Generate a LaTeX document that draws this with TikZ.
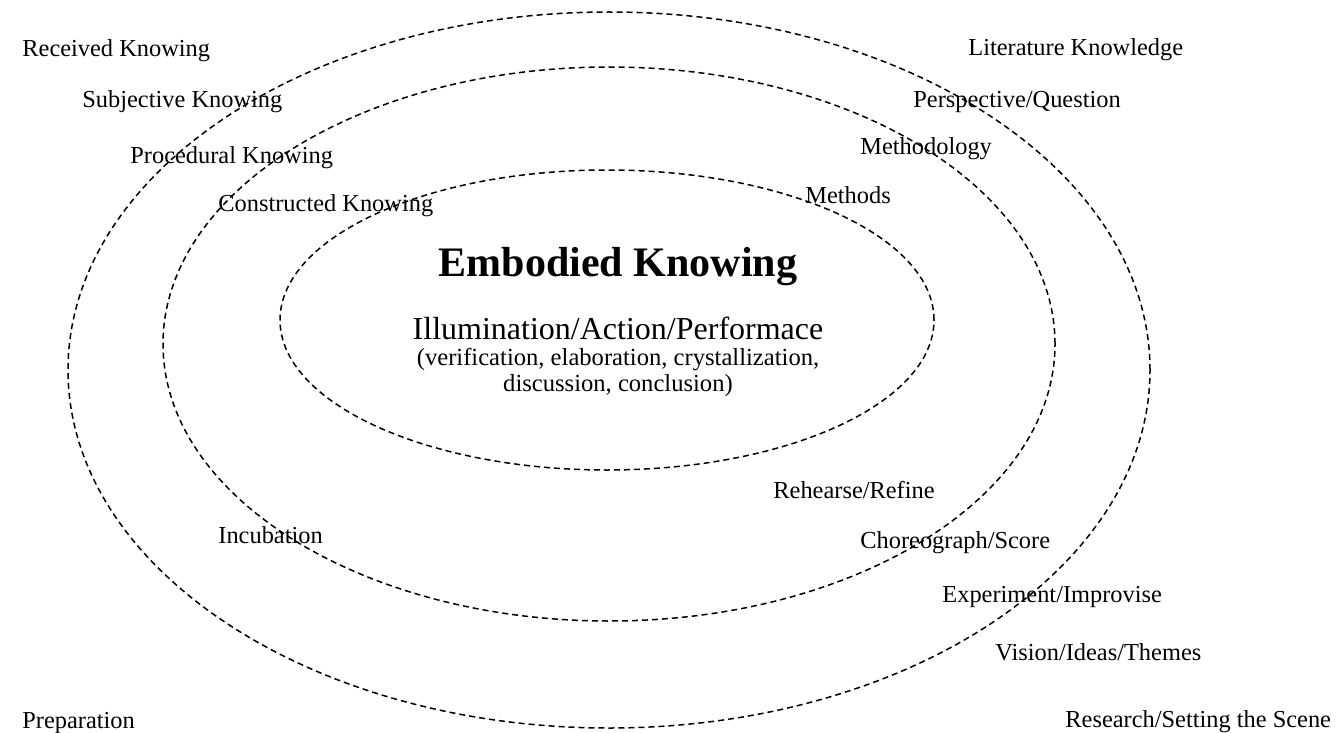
\documentclass[tikz,border=0pt]{standalone}
\usepackage{fontspec}
\setmainfont{Liberation Serif}
\begin{document}
\begin{tikzpicture}[x=0.5pt, y=-0.5pt,
	ring/.style = {draw, line width=0.75pt, dash pattern=on 3pt off 2pt},
	stage/.style = {anchor=base west, inner sep=0pt, font=\fontsize{12.2}{14}\selectfont},
	core/.style = {anchor=base, inner sep=0pt, align=center}]
	\useasboundingbox (0,0) rectangle (1343,733);

	% the three rings
	\coordinate (outerc) at (609,370);
	\coordinate (middlec) at (609,344);
	\coordinate (innerc) at (607,320);
	\draw[ring] (outerc) ellipse [x radius=270.5pt, y radius=179pt];
	\draw[ring] (middlec) ellipse [x radius=223pt, y radius=138.5pt];
	\draw[ring] (innerc) ellipse [x radius=163.5pt, y radius=75pt];

	% centre
	\node[core, font=\bfseries\fontsize{21}{24}\selectfont] (embodied) at (618,276) {Embodied Knowing};
	\node[core, font=\fontsize{16}{18}\selectfont] (illum) at (618,339) {Illumination/Action/Performace};
	\node[core, font=\fontsize{12.3}{12.8}\selectfont] (detail) at (618,391) {(verification, elaboration, crystallization,\\discussion, conclusion)};

	% left side
	\node[stage] (received) at (22,57) {Received Knowing};
	\node[stage] (subjective) at (82,108) {Subjective Knowing};
	\node[stage] (procedural) at (130,163) {Procedural Knowing};
	\node[stage] (constructed) at (218,211) {Constructed Knowing};
	\node[stage] (incubation) at (218,543) {Incubation};
	\node[stage] (preparation) at (22,728) {Preparation};

	% right side
	\node[stage] (literature) at (968,56) {Literature Knowledge};
	\node[stage] (perspective) at (913,108) {Perspective/Question};
	\node[stage] (methodology) at (860,155) {Methodology};
	\node[stage] (methods) at (805,203) {Methods};
	\node[stage] (rehearse) at (773,498) {Rehearse/Refine};
	\node[stage] (choreo) at (860,548) {Choreograph/Score};
	\node[stage] (experiment) at (942,602) {Experiment/Improvise};
	\node[stage] (vision) at (995,660) {Vision/Ideas/Themes};
	\node[stage] (research) at (1065,727) {Research/Setting the Scene};
\end{tikzpicture}
\end{document}
